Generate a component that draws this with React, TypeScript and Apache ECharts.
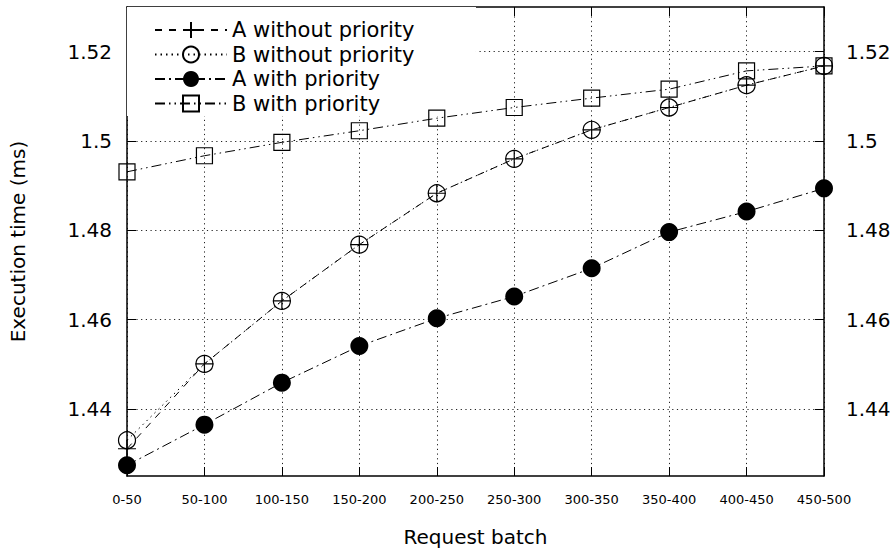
import React, { useEffect, useRef } from "react";
import * as echarts from "echarts";

const categories = ["0-50", "50-100", "100-150", "150-200", "200-250", "250-300", "300-350", "350-400", "400-450", "450-500"];
const aWithout = [1.4311, 1.4501, 1.4642, 1.4768, 1.4883, 1.496, 1.5025, 1.5075, 1.5125, 1.5168];
const bWithout = [1.433, 1.4501, 1.4642, 1.4768, 1.4883, 1.496, 1.5025, 1.5075, 1.5125, 1.5168];
const aWith = [1.4274, 1.4365, 1.4459, 1.4541, 1.4603, 1.4652, 1.4715, 1.4796, 1.4842, 1.4894];
const bWith = [1.4931, 1.4967, 1.4997, 1.5023, 1.5051, 1.5075, 1.5096, 1.5116, 1.5157, 1.5168];
const yTicks = [1.44, 1.46, 1.48, 1.5, 1.52];
const yMin = 1.425;
const yMax = 1.53;

const FONT = "DejaVu Sans";
const CLEAR = "rgba(0,0,0,0)";

export default function App() {
  const ref = useRef<HTMLDivElement>(null);
  useEffect(() => {
    const chart = echarts.init(ref.current!, undefined, { renderer: "svg" });
    const gridLine = { show: true, lineStyle: { color: "#222", width: 1, type: [1.2, 3.5] } };
    const axisLine = { show: true, onZero: false, lineStyle: { color: "#000", width: 1.5 } };
    const yAxisBase = {
      type: "value",
      min: yMin,
      max: yMax,
      axisLine,
      axisTick: { show: true, inside: true, length: 9, customValues: yTicks, lineStyle: { color: "#000", width: 1 } },
      axisLabel: { customValues: yTicks, color: "#000", fontFamily: FONT, fontSize: 20 },
    };
    chart.setOption({
      animation: false,
      backgroundColor: "#fff",
      textStyle: { fontFamily: FONT },
      grid: { left: 127, right: 70, top: 7, bottom: 75, containLabel: false },
      legend: {
        z: 1,
        orient: "vertical",
        left: 127,
        top: 7,
        padding: [12.5, 61.5, 2, 27],
        backgroundColor: "#fff",
        itemWidth: 72,
        itemHeight: 20,
        itemGap: 3.5,
        textStyle: { fontFamily: FONT, fontSize: 21, lineHeight: 21, color: "#000" },
        data: ["A without priority", "B without priority", "A with priority", "B with priority"],
      },
      xAxis: [
        {
          type: "category",
          data: categories,
          boundaryGap: false,
          z: 0,
          axisLine,
          axisTick: { show: true, inside: true, length: 9, interval: 0, lineStyle: { color: "#000", width: 1 } },
          axisLabel: { interval: 0, color: "#000", fontFamily: FONT, fontSize: 13, margin: 17 },
          splitLine: { ...gridLine, interval: 0 },
          name: "Request batch",
          nameLocation: "middle",
          nameGap: 51,
          nameTextStyle: { fontFamily: FONT, fontSize: 20, color: "#000" },
        },
        {
          type: "category",
          data: categories,
          boundaryGap: false,
          position: "top",
          z: 0,
          axisLine,
          axisTick: { show: true, inside: true, length: 9, interval: 0, lineStyle: { color: "#000", width: 1 } },
          axisLabel: { show: false },
          splitLine: { show: false },
        },
      ],
      yAxis: [
        {
          ...yAxisBase,
          position: "left",
          z: 0,
          axisLabel: { ...yAxisBase.axisLabel, margin: 15 },
          splitLine: gridLine,
          name: "Execution time (ms)",
          nameLocation: "middle",
          nameGap: 99,
          nameTextStyle: { fontFamily: FONT, fontSize: 20, color: "#000" },
        },
        {
          ...yAxisBase,
          position: "right",
          z: 0,
          axisLabel: { ...yAxisBase.axisLabel, margin: 22 },
          splitLine: { show: false },
        },
      ],
      series: [
        {
          name: "A without priority",
          type: "line",
          z: 3,
          data: aWithout,
          symbol: "path://M10,0L10,20M0,10L20,10",
          symbolSize: 18,
          itemStyle: { color: CLEAR, borderColor: "#000", borderWidth: 1.2 },
          lineStyle: { color: "#000", width: 1, type: [7, 7] },
        },
        {
          name: "B without priority",
          type: "line",
          z: 3,
          data: bWithout,
          symbol: "circle",
          symbolSize: 17,
          itemStyle: { color: CLEAR, borderColor: "#000", borderWidth: 1.2 },
          lineStyle: { color: "#000", width: 1, type: [1.5, 4] },
        },
        {
          name: "A with priority",
          type: "line",
          z: 3,
          data: aWith,
          symbol: "circle",
          symbolSize: 18,
          itemStyle: { color: "#000", borderColor: "#000", borderWidth: 0 },
          lineStyle: { color: "#000", width: 1, type: [10, 4, 2, 4] },
        },
        {
          name: "B with priority",
          type: "line",
          z: 3,
          data: bWith,
          symbol: "rect",
          symbolSize: 16,
          itemStyle: { color: CLEAR, borderColor: "#000", borderWidth: 1.2 },
          lineStyle: { color: "#000", width: 1, type: [10, 4, 1.5, 4, 1.5, 4] },
        },
      ],
    });
    return () => chart.dispose();
  }, []);
  return <div ref={ref} style={{ position: "fixed", left: 0, top: 0, width: 894, height: 552 }} />;
}
